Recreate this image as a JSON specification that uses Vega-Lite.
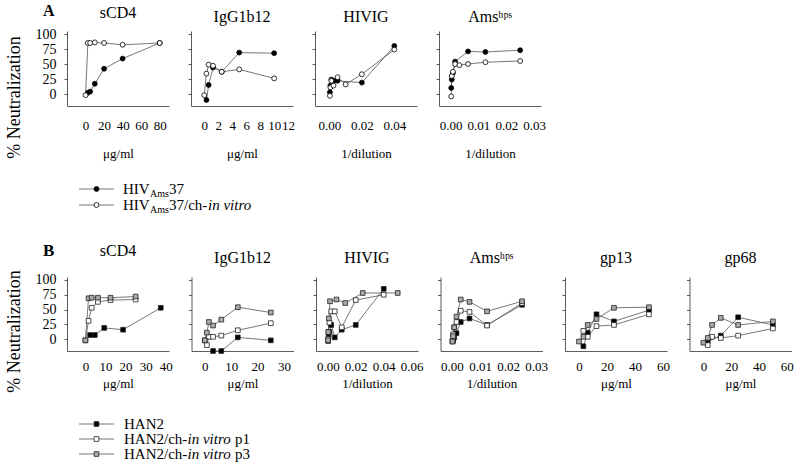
{
 "$schema": "https://vega.github.io/schema/vega-lite/v6.json",
 "background": "white",
 "padding": {"left": 4, "top": 3, "right": 0, "bottom": 0},
 "config": {
  "font": "Liberation Serif",
  "view": {"stroke": null},
  "style": {"guide-label": {"font": "Liberation Serif"}, "guide-title": {"font": "Liberation Serif"}, "group-title": {"font": "Liberation Serif"}},
  "axis": {"grid": false, "domainColor": "#333", "domainWidth": 0.8, "tickColor": "#333", "tickWidth": 0.8, "labelColor": "#000", "labelFont": "Liberation Serif", "titleFont": "Liberation Serif", "labelFontSize": 13, "titleColor": "#000", "titleFontWeight": "normal", "labelFlush": false, "labelOverlap": false},
  "axisX": {"labelFont": "Liberation Serif", "titleFont": "Liberation Serif", "ticks": false, "tickSize": 0, "labelPadding": 13, "titlePadding": 15, "titleFontSize": 13},
  "axisY": {"labelFont": "Liberation Serif", "titleFont": "Liberation Serif", "tickSize": 3, "labelPadding": 8, "labelFontSize": 14, "titleFontSize": 18, "titlePadding": 12},
  "title": {"font": "Liberation Serif", "fontSize": 16, "fontWeight": "normal", "color": "#000", "baseline": "alphabetic", "offset": 6},
  "text": {"font": "Liberation Serif"}
 },
 "datasets": {
  "a": [
   {"p":"sCD4","s":"f","x":2.5,"y":2},{"p":"sCD4","s":"f","x":5,"y":4},{"p":"sCD4","s":"f","x":10,"y":17},{"p":"sCD4","s":"f","x":20,"y":42},{"p":"sCD4","s":"f","x":40,"y":59},{"p":"sCD4","s":"f","x":80,"y":85},
   {"p":"sCD4","s":"o","x":0,"y":-2},{"p":"sCD4","s":"o","x":2.5,"y":85},{"p":"sCD4","s":"o","x":5,"y":85},{"p":"sCD4","s":"o","x":10,"y":86},{"p":"sCD4","s":"o","x":20,"y":85},{"p":"sCD4","s":"o","x":40,"y":82},{"p":"sCD4","s":"o","x":80,"y":85},
   {"p":"IgG","s":"f","x":0.31,"y":-10},{"p":"IgG","s":"f","x":0.625,"y":15},{"p":"IgG","s":"f","x":1.25,"y":44},{"p":"IgG","s":"f","x":2.5,"y":37},{"p":"IgG","s":"f","x":5,"y":69},{"p":"IgG","s":"f","x":10,"y":68},
   {"p":"IgG","s":"o","x":0,"y":-2},{"p":"IgG","s":"o","x":0.31,"y":34},{"p":"IgG","s":"o","x":0.625,"y":49},{"p":"IgG","s":"o","x":1.25,"y":47},{"p":"IgG","s":"o","x":2.5,"y":37},{"p":"IgG","s":"o","x":5,"y":41},{"p":"IgG","s":"o","x":10,"y":26},
   {"p":"HIVIG","s":"f","x":0.0003,"y":3},{"p":"HIVIG","s":"f","x":0.0006,"y":14},{"p":"HIVIG","s":"f","x":0.0012,"y":24},{"p":"HIVIG","s":"f","x":0.0025,"y":22},{"p":"HIVIG","s":"f","x":0.005,"y":22},{"p":"HIVIG","s":"f","x":0.02,"y":19},{"p":"HIVIG","s":"f","x":0.04,"y":80},
   {"p":"HIVIG","s":"o","x":0.0003,"y":-3},{"p":"HIVIG","s":"o","x":0.0006,"y":11},{"p":"HIVIG","s":"o","x":0.0012,"y":22},{"p":"HIVIG","s":"o","x":0.0025,"y":14},{"p":"HIVIG","s":"o","x":0.005,"y":28},{"p":"HIVIG","s":"o","x":0.01,"y":16},{"p":"HIVIG","s":"o","x":0.02,"y":33},{"p":"HIVIG","s":"o","x":0.04,"y":74},
   {"p":"Ams","s":"f","x":0.0002,"y":10},{"p":"Ams","s":"f","x":0.0004,"y":24},{"p":"Ams","s":"f","x":0.0008,"y":35},{"p":"Ams","s":"f","x":0.0016,"y":54},{"p":"Ams","s":"f","x":0.00625,"y":71},{"p":"Ams","s":"f","x":0.0125,"y":70},{"p":"Ams","s":"f","x":0.025,"y":73},
   {"p":"Ams","s":"o","x":0.0002,"y":-4},{"p":"Ams","s":"o","x":0.0004,"y":30},{"p":"Ams","s":"o","x":0.0008,"y":37},{"p":"Ams","s":"o","x":0.0016,"y":50},{"p":"Ams","s":"o","x":0.003125,"y":48},{"p":"Ams","s":"o","x":0.00625,"y":50},{"p":"Ams","s":"o","x":0.0125,"y":53},{"p":"Ams","s":"o","x":0.025,"y":55}
  ],
  "b": [
   {"p":"sCD4","s":"f","x":2.34,"y":7},{"p":"sCD4","s":"f","x":4.69,"y":7},{"p":"sCD4","s":"f","x":9.375,"y":19},{"p":"sCD4","s":"f","x":18.75,"y":16},{"p":"sCD4","s":"f","x":37.5,"y":53},
   {"p":"sCD4","s":"o","x":0,"y":-2},{"p":"sCD4","s":"o","x":1.56,"y":31},{"p":"sCD4","s":"o","x":3.125,"y":53},{"p":"sCD4","s":"o","x":6.25,"y":63},{"p":"sCD4","s":"o","x":12.5,"y":66},{"p":"sCD4","s":"o","x":25,"y":67},
   {"p":"sCD4","s":"g","x":0,"y":-2},{"p":"sCD4","s":"g","x":1.56,"y":69},{"p":"sCD4","s":"g","x":3.125,"y":70},{"p":"sCD4","s":"g","x":6.25,"y":70},{"p":"sCD4","s":"g","x":12.5,"y":70},{"p":"sCD4","s":"g","x":25,"y":72},
   {"p":"IgG","s":"f","x":3.125,"y":-20},{"p":"IgG","s":"f","x":6.25,"y":-20},{"p":"IgG","s":"f","x":12.5,"y":3},{"p":"IgG","s":"f","x":25,"y":-2},
   {"p":"IgG","s":"o","x":0,"y":-2},{"p":"IgG","s":"o","x":0.78,"y":-10},{"p":"IgG","s":"o","x":1.56,"y":4},{"p":"IgG","s":"o","x":3.125,"y":4},{"p":"IgG","s":"o","x":6.25,"y":6},{"p":"IgG","s":"o","x":12.5,"y":15},{"p":"IgG","s":"o","x":25,"y":27},
   {"p":"IgG","s":"g","x":0,"y":-2},{"p":"IgG","s":"g","x":0.78,"y":11},{"p":"IgG","s":"g","x":1.56,"y":29},{"p":"IgG","s":"g","x":3.125,"y":23},{"p":"IgG","s":"g","x":6.25,"y":33},{"p":"IgG","s":"g","x":12.5,"y":54},{"p":"IgG","s":"g","x":25,"y":45},
   {"p":"HIVIG","s":"f","x":0.0003,"y":-3},{"p":"HIVIG","s":"f","x":0.0006,"y":5},{"p":"HIVIG","s":"f","x":0.0012,"y":12},{"p":"HIVIG","s":"f","x":0.0025,"y":24},{"p":"HIVIG","s":"f","x":0.005,"y":3},{"p":"HIVIG","s":"f","x":0.01,"y":16},{"p":"HIVIG","s":"f","x":0.02,"y":24},{"p":"HIVIG","s":"f","x":0.04,"y":85},
   {"p":"HIVIG","s":"o","x":0.0003,"y":0},{"p":"HIVIG","s":"o","x":0.0006,"y":12},{"p":"HIVIG","s":"o","x":0.0012,"y":28},{"p":"HIVIG","s":"o","x":0.0025,"y":47},{"p":"HIVIG","s":"o","x":0.005,"y":47},{"p":"HIVIG","s":"o","x":0.01,"y":20},{"p":"HIVIG","s":"o","x":0.02,"y":66},{"p":"HIVIG","s":"o","x":0.04,"y":75},
   {"p":"HIVIG","s":"g","x":0.0002,"y":-2},{"p":"HIVIG","s":"g","x":0.0004,"y":12},{"p":"HIVIG","s":"g","x":0.0008,"y":35},{"p":"HIVIG","s":"g","x":0.0016,"y":64},{"p":"HIVIG","s":"g","x":0.00625,"y":67},{"p":"HIVIG","s":"g","x":0.0125,"y":61},{"p":"HIVIG","s":"g","x":0.025,"y":78},{"p":"HIVIG","s":"g","x":0.05,"y":78},
   {"p":"Ams","s":"f","x":0.0002,"y":-4},{"p":"Ams","s":"f","x":0.0004,"y":-2},{"p":"Ams","s":"f","x":0.0008,"y":3},{"p":"Ams","s":"f","x":0.0016,"y":10},{"p":"Ams","s":"f","x":0.003125,"y":29},{"p":"Ams","s":"f","x":0.00625,"y":35},{"p":"Ams","s":"f","x":0.0125,"y":24},{"p":"Ams","s":"f","x":0.025,"y":58},
   {"p":"Ams","s":"o","x":0.0002,"y":-3},{"p":"Ams","s":"o","x":0.0004,"y":8},{"p":"Ams","s":"o","x":0.0008,"y":20},{"p":"Ams","s":"o","x":0.0016,"y":29},{"p":"Ams","s":"o","x":0.003125,"y":48},{"p":"Ams","s":"o","x":0.00625,"y":46},{"p":"Ams","s":"o","x":0.0125,"y":23},{"p":"Ams","s":"o","x":0.025,"y":61},
   {"p":"Ams","s":"g","x":0.0002,"y":-4},{"p":"Ams","s":"g","x":0.0004,"y":5},{"p":"Ams","s":"g","x":0.0008,"y":20},{"p":"Ams","s":"g","x":0.0016,"y":38},{"p":"Ams","s":"g","x":0.003125,"y":67},{"p":"Ams","s":"g","x":0.00625,"y":63},{"p":"Ams","s":"g","x":0.0125,"y":47},{"p":"Ams","s":"g","x":0.025,"y":64},
   {"p":"gp13","s":"f","x":3.125,"y":-12},{"p":"gp13","s":"f","x":6.25,"y":11},{"p":"gp13","s":"f","x":12.5,"y":42},{"p":"gp13","s":"f","x":25,"y":30},{"p":"gp13","s":"f","x":50,"y":49},
   {"p":"gp13","s":"o","x":3.125,"y":14},{"p":"gp13","s":"o","x":6.25,"y":4},{"p":"gp13","s":"o","x":12.5,"y":22},{"p":"gp13","s":"o","x":25,"y":24},{"p":"gp13","s":"o","x":50,"y":42},
   {"p":"gp13","s":"g","x":0,"y":-4},{"p":"gp13","s":"g","x":3.125,"y":4},{"p":"gp13","s":"g","x":6.25,"y":24},{"p":"gp13","s":"g","x":12.5,"y":34},{"p":"gp13","s":"g","x":25,"y":53},{"p":"gp13","s":"g","x":50,"y":54},
   {"p":"gp68","s":"f","x":3.125,"y":-4},{"p":"gp68","s":"f","x":12.5,"y":6},{"p":"gp68","s":"f","x":25,"y":37},{"p":"gp68","s":"f","x":50,"y":24},
   {"p":"gp68","s":"o","x":3.125,"y":-10},{"p":"gp68","s":"o","x":6.25,"y":4},{"p":"gp68","s":"o","x":12.5,"y":2},{"p":"gp68","s":"o","x":25,"y":6},{"p":"gp68","s":"o","x":50,"y":18},
   {"p":"gp68","s":"g","x":0,"y":-6},{"p":"gp68","s":"g","x":3.125,"y":2},{"p":"gp68","s":"g","x":6.25,"y":24},{"p":"gp68","s":"g","x":12.5,"y":36},{"p":"gp68","s":"g","x":25,"y":24},{"p":"gp68","s":"g","x":50,"y":30}
  ],
  "legA": [
   {"s":"f","t1":"HIV","t2":"Ams","t3":"37","t4":""},
   {"s":"o","t1":"HIV","t2":"Ams","t3":"37/ch-","t4":"in vitro"}
  ],
  "legB": [
   {"s":"f","t1":"HAN2","t2":"","t3":""},
   {"s":"o","t1":"HAN2/ch-","t2":"in vitro","t3":"p1"},
   {"s":"g","t1":"HAN2/ch-","t2":"in vitro","t3":"p3"}
  ]
 },
 "resolve": {"scale": {"x": "independent", "y": "independent", "fill": "independent"}},
 "spacing": 10,
 "vconcat": [
  {
   "resolve": {"scale": {"x": "independent", "y": "independent", "fill": "independent"}},
   "spacing": 19,
   "vconcat": [
    {
     "title": {"text": "A", "anchor": "start", "frame": "group", "fontSize": 16, "fontWeight": "bold", "offset": -14, "dx": -24},
     "resolve": {"scale": {"x": "independent", "y": "independent", "fill": "independent"}},
     "bounds": "flush",
     "spacing": 22,
     "hconcat": [
      {
       "width": 102, "height": 75,
       "title": {"text": "sCD4"},
       "data": {"name": "a"},
       "transform": [{"filter": "datum.p === 'sCD4'"}],
       "encoding": {
        "x": {"field": "x", "type": "quantitative", "scale": {"domain": [-20, 90], "nice": false, "zero": false}, "axis": {"values": [0, 20, 40, 60, 80], "title": "μg/ml", "labelFont": "Liberation Serif", "titleFont": "Liberation Serif"}},
        "y": {"field": "y", "type": "quantitative", "scale": {"domain": [-20, 105], "nice": false, "zero": false}, "axis": {"values": [0, 25, 50, 75, 100], "title": "% Neutralization", "titleY": 66, "labelFont": "Liberation Serif", "titleFont": "Liberation Serif"}}
       },
       "layer": [
        {"mark": {"type": "line", "color": "#555", "strokeWidth": 0.8}, "encoding": {"detail": {"field": "s"}}},
        {"mark": {"type": "point", "shape": "circle", "filled": true, "size": 24, "stroke": "#000", "strokeWidth": 0.8, "opacity": 1}, "encoding": {"fill": {"field": "s", "type": "nominal", "scale": {"domain": ["f", "o"], "range": ["#000", "#fff"]}, "legend": null}}}
       ]
      },
      {
       "width": 102, "height": 75,
       "title": {"text": "IgG1b12"},
       "data": {"name": "a"},
       "transform": [{"filter": "datum.p === 'IgG'"}],
       "encoding": {
        "x": {"field": "x", "type": "quantitative", "scale": {"domain": [-1.9, 12.7], "nice": false, "zero": false}, "axis": {"values": [0, 2, 4, 6, 8, 10, 12], "title": "μg/ml", "labelFont": "Liberation Serif", "titleFont": "Liberation Serif"}},
        "y": {"field": "y", "type": "quantitative", "scale": {"domain": [-20, 105], "nice": false, "zero": false}, "axis": {"values": [0, 25, 50, 75, 100], "labels": false, "title": null}}
       },
       "layer": [
        {"mark": {"type": "line", "color": "#555", "strokeWidth": 0.8}, "encoding": {"detail": {"field": "s"}}},
        {"mark": {"type": "point", "shape": "circle", "filled": true, "size": 24, "stroke": "#000", "strokeWidth": 0.8, "opacity": 1}, "encoding": {"fill": {"field": "s", "type": "nominal", "scale": {"domain": ["f", "o"], "range": ["#000", "#fff"]}, "legend": null}}}
       ]
      },
      {
       "width": 102, "height": 75,
       "title": {"text": "HIVIG"},
       "data": {"name": "a"},
       "transform": [{"filter": "datum.p === 'HIVIG'"}],
       "encoding": {
        "x": {"field": "x", "type": "quantitative", "scale": {"domain": [-0.0089, 0.054], "nice": false, "zero": false}, "axis": {"values": [0, 0.02, 0.04], "format": ".2f", "title": "1/dilution", "labelFont": "Liberation Serif", "titleFont": "Liberation Serif"}},
        "y": {"field": "y", "type": "quantitative", "scale": {"domain": [-20, 105], "nice": false, "zero": false}, "axis": {"values": [0, 25, 50, 75, 100], "labels": false, "title": null}}
       },
       "layer": [
        {"mark": {"type": "line", "color": "#555", "strokeWidth": 0.8}, "encoding": {"detail": {"field": "s"}}},
        {"mark": {"type": "point", "shape": "circle", "filled": true, "size": 24, "stroke": "#000", "strokeWidth": 0.8, "opacity": 1}, "encoding": {"fill": {"field": "s", "type": "nominal", "scale": {"domain": ["f", "o"], "range": ["#000", "#fff"]}, "legend": null}}}
       ]
      },
      {
       "width": 102, "height": 75,
       "title": {"text": "Amsʰᵖˢ"},
       "data": {"name": "a"},
       "transform": [{"filter": "datum.p === 'Ams'"}],
       "encoding": {
        "x": {"field": "x", "type": "quantitative", "scale": {"domain": [-0.0042, 0.0325], "nice": false, "zero": false}, "axis": {"values": [0, 0.01, 0.02, 0.03], "format": ".2f", "title": "1/dilution", "labelFont": "Liberation Serif", "titleFont": "Liberation Serif"}},
        "y": {"field": "y", "type": "quantitative", "scale": {"domain": [-20, 105], "nice": false, "zero": false}, "axis": {"values": [0, 25, 50, 75, 100], "labels": false, "title": null}}
       },
       "layer": [
        {"mark": {"type": "line", "color": "#555", "strokeWidth": 0.8}, "encoding": {"detail": {"field": "s"}}},
        {"mark": {"type": "point", "shape": "circle", "filled": true, "size": 24, "stroke": "#000", "strokeWidth": 0.8, "opacity": 1}, "encoding": {"fill": {"field": "s", "type": "nominal", "scale": {"domain": ["f", "o"], "range": ["#000", "#fff"]}, "legend": null}}}
       ]
      }
     ]
    },
    {
     "width": 300, "height": 52,
     "data": {"name": "legA"},
     "encoding": {"y": {"field": "s", "type": "nominal", "scale": {"type": "point", "domain": ["f", "o", "_"], "padding": 0.625}, "axis": null}},
     "layer": [
      {"mark": {"type": "rule", "color": "#555", "strokeWidth": 0.8}, "encoding": {"x": {"datum": 12, "type": "quantitative", "scale": {"domain": [0, 300], "nice": false, "zero": false}, "axis": null}, "x2": {"datum": 47}}},
      {"mark": {"type": "point", "shape": "circle", "filled": true, "size": 24, "stroke": "#000", "strokeWidth": 0.8, "opacity": 1}, "encoding": {"x": {"datum": 29.5, "type": "quantitative"}, "fill": {"field": "s", "type": "nominal", "scale": {"domain": ["f", "o"], "range": ["#000", "#fff"]}, "legend": null}}},
      {"mark": {"type": "text", "align": "left", "baseline": "middle", "fontSize": 15, "font": "Liberation Serif"}, "encoding": {"x": {"datum": 56, "type": "quantitative"}, "text": {"field": "t1"}}},
      {"mark": {"type": "text", "align": "left", "baseline": "middle", "fontSize": 10, "dx": 27, "dy": 5, "font": "Liberation Serif"}, "encoding": {"x": {"datum": 56, "type": "quantitative"}, "text": {"field": "t2"}}},
      {"mark": {"type": "text", "align": "left", "baseline": "middle", "fontSize": 15, "dx": 46, "font": "Liberation Serif"}, "encoding": {"x": {"datum": 56, "type": "quantitative"}, "text": {"field": "t3"}}},
      {"mark": {"type": "text", "align": "left", "baseline": "middle", "fontSize": 15, "fontStyle": "italic", "dx": 85, "font": "Liberation Serif"}, "encoding": {"x": {"datum": 56, "type": "quantitative"}, "text": {"field": "t4"}}}
     ]
    }
   ]
  },
  {
   "resolve": {"scale": {"x": "independent", "y": "independent", "fill": "independent"}},
   "spacing": 19,
   "vconcat": [
    {
     "title": {"text": "B", "anchor": "start", "frame": "group", "fontSize": 17, "fontWeight": "bold", "offset": -17, "dx": -24},
     "resolve": {"scale": {"x": "independent", "y": "independent", "fill": "independent"}},
     "bounds": "flush",
     "spacing": 22.5,
     "hconcat": [
      {
       "width": 102, "height": 74,
       "title": {"text": "sCD4", "offset": 11},
       "data": {"name": "b"},
       "transform": [{"filter": "datum.p === 'sCD4'"}],
       "encoding": {
        "x": {"field": "x", "type": "quantitative", "scale": {"domain": [-9.15, 41.6], "nice": false, "zero": false}, "axis": {"values": [0, 10, 20, 30, 40], "title": "μg/ml", "labelPadding": 9, "titlePadding": 4, "labelFont": "Liberation Serif", "titleFont": "Liberation Serif"}},
        "y": {"field": "y", "type": "quantitative", "scale": {"domain": [-20, 105], "nice": false, "zero": false}, "axis": {"values": [0, 25, 50, 75, 100], "title": "% Neutralization", "titleY": 54, "labelFont": "Liberation Serif", "titleFont": "Liberation Serif"}}
       },
       "layer": [
        {"mark": {"type": "line", "color": "#555", "strokeWidth": 0.8}, "encoding": {"detail": {"field": "s"}}},
        {"mark": {"type": "point", "shape": "square", "filled": true, "size": 22, "stroke": "#222", "strokeWidth": 0.8, "opacity": 1}, "encoding": {"fill": {"field": "s", "type": "nominal", "scale": {"domain": ["f", "o", "g"], "range": ["#000", "#fff", "#aaa"]}, "legend": null}}}
       ]
      },
      {
       "width": 102, "height": 74,
       "title": {"text": "IgG1b12", "offset": 11},
       "data": {"name": "b"},
       "transform": [{"filter": "datum.p === 'IgG'"}],
       "encoding": {
        "x": {"field": "x", "type": "quantitative", "scale": {"domain": [-5.04, 33.6], "nice": false, "zero": false}, "axis": {"values": [0, 10, 20, 30], "title": "μg/ml", "labelPadding": 9, "titlePadding": 4, "labelFont": "Liberation Serif", "titleFont": "Liberation Serif"}},
        "y": {"field": "y", "type": "quantitative", "scale": {"domain": [-20, 105], "nice": false, "zero": false}, "axis": {"values": [0, 25, 50, 75, 100], "labels": false, "title": null}}
       },
       "layer": [
        {"mark": {"type": "line", "color": "#555", "strokeWidth": 0.8}, "encoding": {"detail": {"field": "s"}}},
        {"mark": {"type": "point", "shape": "square", "filled": true, "size": 22, "stroke": "#222", "strokeWidth": 0.8, "opacity": 1}, "encoding": {"fill": {"field": "s", "type": "nominal", "scale": {"domain": ["f", "o", "g"], "range": ["#000", "#fff", "#aaa"]}, "legend": null}}}
       ]
      },
      {
       "width": 102, "height": 74,
       "title": {"text": "HIVIG", "offset": 11},
       "data": {"name": "b"},
       "transform": [{"filter": "datum.p === 'HIVIG'"}],
       "encoding": {
        "x": {"field": "x", "type": "quantitative", "scale": {"domain": [-0.0084, 0.0645], "nice": false, "zero": false}, "axis": {"values": [0, 0.02, 0.04, 0.06], "format": ".2f", "title": "1/dilution", "labelPadding": 9, "titlePadding": 4, "labelFont": "Liberation Serif", "titleFont": "Liberation Serif"}},
        "y": {"field": "y", "type": "quantitative", "scale": {"domain": [-20, 105], "nice": false, "zero": false}, "axis": {"values": [0, 25, 50, 75, 100], "labels": false, "title": null}}
       },
       "layer": [
        {"mark": {"type": "line", "color": "#555", "strokeWidth": 0.8}, "encoding": {"detail": {"field": "s"}}},
        {"mark": {"type": "point", "shape": "square", "filled": true, "size": 22, "stroke": "#222", "strokeWidth": 0.8, "opacity": 1}, "encoding": {"fill": {"field": "s", "type": "nominal", "scale": {"domain": ["f", "o", "g"], "range": ["#000", "#fff", "#aaa"]}, "legend": null}}}
       ]
      },
      {
       "width": 102, "height": 74,
       "title": {"text": "Amsʰᵖˢ", "offset": 11},
       "data": {"name": "b"},
       "transform": [{"filter": "datum.p === 'Ams'"}],
       "encoding": {
        "x": {"field": "x", "type": "quantitative", "scale": {"domain": [-0.0041, 0.0323], "nice": false, "zero": false}, "axis": {"values": [0, 0.01, 0.02, 0.03], "format": ".2f", "title": "1/dilution", "labelPadding": 9, "titlePadding": 4, "labelFont": "Liberation Serif", "titleFont": "Liberation Serif"}},
        "y": {"field": "y", "type": "quantitative", "scale": {"domain": [-20, 105], "nice": false, "zero": false}, "axis": {"values": [0, 25, 50, 75, 100], "labels": false, "title": null}}
       },
       "layer": [
        {"mark": {"type": "line", "color": "#555", "strokeWidth": 0.8}, "encoding": {"detail": {"field": "s"}}},
        {"mark": {"type": "point", "shape": "square", "filled": true, "size": 22, "stroke": "#222", "strokeWidth": 0.8, "opacity": 1}, "encoding": {"fill": {"field": "s", "type": "nominal", "scale": {"domain": ["f", "o", "g"], "range": ["#000", "#fff", "#aaa"]}, "legend": null}}}
       ]
      },
      {
       "width": 102, "height": 74,
       "title": {"text": "gp13", "offset": 11},
       "data": {"name": "b"},
       "transform": [{"filter": "datum.p === 'gp13'"}],
       "encoding": {
        "x": {"field": "x", "type": "quantitative", "scale": {"domain": [-10, 62.9], "nice": false, "zero": false}, "axis": {"values": [0, 20, 40, 60], "title": "μg/ml", "labelPadding": 9, "titlePadding": 4, "labelFont": "Liberation Serif", "titleFont": "Liberation Serif"}},
        "y": {"field": "y", "type": "quantitative", "scale": {"domain": [-20, 105], "nice": false, "zero": false}, "axis": {"values": [0, 25, 50, 75, 100], "labels": false, "title": null}}
       },
       "layer": [
        {"mark": {"type": "line", "color": "#555", "strokeWidth": 0.8}, "encoding": {"detail": {"field": "s"}}},
        {"mark": {"type": "point", "shape": "square", "filled": true, "size": 22, "stroke": "#222", "strokeWidth": 0.8, "opacity": 1}, "encoding": {"fill": {"field": "s", "type": "nominal", "scale": {"domain": ["f", "o", "g"], "range": ["#000", "#fff", "#aaa"]}, "legend": null}}}
       ]
      },
      {
       "width": 102, "height": 74,
       "title": {"text": "gp68", "offset": 11},
       "data": {"name": "b"},
       "transform": [{"filter": "datum.p === 'gp68'"}],
       "encoding": {
        "x": {"field": "x", "type": "quantitative", "scale": {"domain": [-10, 63.4], "nice": false, "zero": false}, "axis": {"values": [0, 20, 40, 60], "title": "μg/ml", "labelPadding": 9, "titlePadding": 4, "labelFont": "Liberation Serif", "titleFont": "Liberation Serif"}},
        "y": {"field": "y", "type": "quantitative", "scale": {"domain": [-20, 105], "nice": false, "zero": false}, "axis": {"values": [0, 25, 50, 75, 100], "labels": false, "title": null}}
       },
       "layer": [
        {"mark": {"type": "line", "color": "#555", "strokeWidth": 0.8}, "encoding": {"detail": {"field": "s"}}},
        {"mark": {"type": "point", "shape": "square", "filled": true, "size": 22, "stroke": "#222", "strokeWidth": 0.8, "opacity": 1}, "encoding": {"fill": {"field": "s", "type": "nominal", "scale": {"domain": ["f", "o", "g"], "range": ["#000", "#fff", "#aaa"]}, "legend": null}}}
       ]
      }
     ]
    },
    {
     "width": 300, "height": 54,
     "data": {"name": "legB"},
     "encoding": {"y": {"field": "s", "type": "nominal", "scale": {"type": "point", "domain": ["f", "o", "g"], "padding": 0.8}, "axis": null}},
     "layer": [
      {"mark": {"type": "rule", "color": "#555", "strokeWidth": 0.8}, "encoding": {"x": {"datum": 12, "type": "quantitative", "scale": {"domain": [0, 300], "nice": false, "zero": false}, "axis": null}, "x2": {"datum": 47}}},
      {"mark": {"type": "point", "shape": "square", "filled": true, "size": 22, "stroke": "#222", "strokeWidth": 0.8, "opacity": 1}, "encoding": {"x": {"datum": 29.5, "type": "quantitative"}, "fill": {"field": "s", "type": "nominal", "scale": {"domain": ["f", "o", "g"], "range": ["#000", "#fff", "#aaa"]}, "legend": null}}},
      {"mark": {"type": "text", "align": "left", "baseline": "middle", "fontSize": 15, "font": "Liberation Serif"}, "encoding": {"x": {"datum": 57, "type": "quantitative"}, "text": {"field": "t1"}}},
      {"mark": {"type": "text", "align": "left", "baseline": "middle", "fontSize": 15, "fontStyle": "italic", "dx": 63.5, "font": "Liberation Serif"}, "encoding": {"x": {"datum": 57, "type": "quantitative"}, "text": {"field": "t2"}}},
      {"mark": {"type": "text", "align": "left", "baseline": "middle", "fontSize": 15, "dx": 111, "font": "Liberation Serif"}, "encoding": {"x": {"datum": 57, "type": "quantitative"}, "text": {"field": "t3"}}}
     ]
    }
   ]
  }
 ]
}
